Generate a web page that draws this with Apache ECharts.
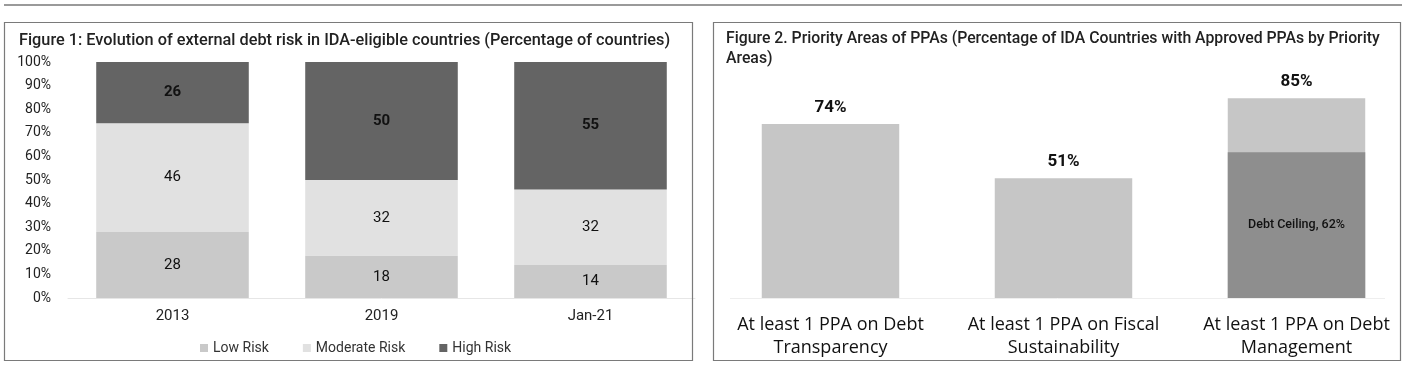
<!DOCTYPE html>
<html>
<head>
<meta charset="utf-8">
<script src="https://cdn.jsdelivr.net/npm/echarts@6/dist/echarts.min.js"></script>
<style>
html,body{margin:0;padding:0;background:#fff;}
#c{width:1418px;height:366px;}
</style>
</head>
<body>
<div id="c"></div>
<script>
// Figure 1 data
const years = ['2013', '2019', 'Jan-21'];
const lowRisk = [28, 18, 14];
const moderateRisk = [46, 32, 32];
const highRisk = [26, 50, 55];
const yTicks1 = ['0%', '10%', '20%', '30%', '40%', '50%', '60%', '70%', '80%', '90%', '100%'];

// Figure 2 data
const areas = ['At least 1 PPA on Debt\nTransparency', 'At least 1 PPA on Fiscal\nSustainability', 'At least 1 PPA on Debt\nManagement'];
const ppaShare = [74, 51, 85];
const debtCeiling = [null, null, 62];

const FONT = 'Roboto';
const chart = echarts.init(document.getElementById('c'), null, {renderer: 'canvas'});

const option = {
  animation: false,
  textStyle: {fontFamily: FONT},
  title: [
    {text: 'Figure 1: Evolution of external debt risk in IDA-eligible countries (Percentage of countries)',
     left: 14, top: 28, textStyle: {fontSize: 16.3, fontWeight: 500, color: '#222', fontFamily: FONT}},
    {text: 'Figure 2. Priority Areas of PPAs (Percentage of IDA Countries with Approved PPAs by Priority\nAreas)',
     left: 721, top: 24, textStyle: {fontSize: 15.8, fontWeight: 500, color: '#222', lineHeight: 20, fontFamily: FONT}}
  ],
  legend: {
    data: ['Low Risk', 'Moderate Risk', 'High Risk'],
    left: 195, top: 336, itemWidth: 8, itemHeight: 8, itemGap: 34, icon: 'rect',
    textStyle: {fontSize: 14, color: '#333', fontFamily: FONT}
  },
  grid: [
    {left: 68, top: 62, width: 627, height: 236},
    {left: 714, top: 63, width: 699, height: 235}
  ],
  xAxis: [
    {type: 'category', gridIndex: 0, data: years,
     axisLine: {lineStyle: {color: '#e6e6e6'}}, axisTick: {show: false},
     axisLabel: {fontSize: 15, color: '#222', margin: 11}},
    {type: 'category', gridIndex: 1, data: areas,
     axisLine: {show: false}, axisTick: {show: false},
     axisLabel: {interval: 0, hideOverlap: false, fontSize: 18, color: '#111', margin: 15, lineHeight: 23, fontFamily: 'Open Sans'}}
  ],
  yAxis: [
    {type: 'value', gridIndex: 0, min: 0, max: 100, interval: 10,
     axisLine: {show: false}, axisTick: {show: false}, splitLine: {show: false},
     axisLabel: {fontSize: 14, color: '#222', margin: 17,
       formatter: (v) => yTicks1[Math.round(v / 10)]}},
    {type: 'value', gridIndex: 1, min: 0, max: 100, show: false, splitLine: {show: false}}
  ],
  series: [
    {name: 'Low Risk', type: 'bar', stack: 'r', xAxisIndex: 0, yAxisIndex: 0, data: lowRisk,
     barWidth: '73%', itemStyle: {color: '#c9c9c9'},
     label: {show: true, position: 'inside', fontSize: 15, color: '#111'}},
    {name: 'Moderate Risk', type: 'bar', stack: 'r', xAxisIndex: 0, yAxisIndex: 0, data: moderateRisk,
     itemStyle: {color: '#e1e1e1'},
     label: {show: true, position: 'inside', fontSize: 15, color: '#111'}},
    {name: 'High Risk', type: 'bar', stack: 'r', xAxisIndex: 0, yAxisIndex: 0, data: highRisk,
     itemStyle: {color: '#646464'},
     label: {show: true, position: 'inside', fontSize: 15, fontWeight: 'bold', color: '#111'}},
    {name: 'PPA', type: 'bar', xAxisIndex: 1, yAxisIndex: 1, data: ppaShare,
     barWidth: '59%', barGap: '-100%', itemStyle: {color: '#c6c6c6'}, z: 2,
     label: {show: true, position: 'top', distance: 8, fontSize: 17, fontWeight: 'bold', color: '#111',
       formatter: (p) => p.value + '%'}},
    {name: 'Debt Ceiling', type: 'bar', xAxisIndex: 1, yAxisIndex: 1, data: debtCeiling,
     barWidth: '59%', barGap: '-100%', itemStyle: {color: '#8e8e8e'}, z: 3,
     label: {show: true, position: 'inside', fontSize: 12.5, fontWeight: 500, color: '#111',
       formatter: (p) => 'Debt Ceiling, ' + p.value + '%'}}
  ],
  graphic: [
    {type: 'rect', shape: {x: 4, y: 4, width: 1398, height: 2}, style: {fill: '#9a9a9a'}, silent: true},
    {type: 'rect', shape: {x: 4.5, y: 22.5, width: 688, height: 338}, style: {fill: 'none', stroke: '#7a7a7a', lineWidth: 1.2}, silent: true, z: 10},
    {type: 'rect', shape: {x: 713.5, y: 22.5, width: 687, height: 338}, style: {fill: 'none', stroke: '#7a7a7a', lineWidth: 1.2}, silent: true, z: 10},
    {type: 'line', shape: {x1: 730, y1: 298.5, x2: 1385, y2: 298.5}, style: {stroke: '#eeeeee', lineWidth: 1}, silent: true}
  ]
};
chart.setOption(option);
</script>
</body>
</html>
